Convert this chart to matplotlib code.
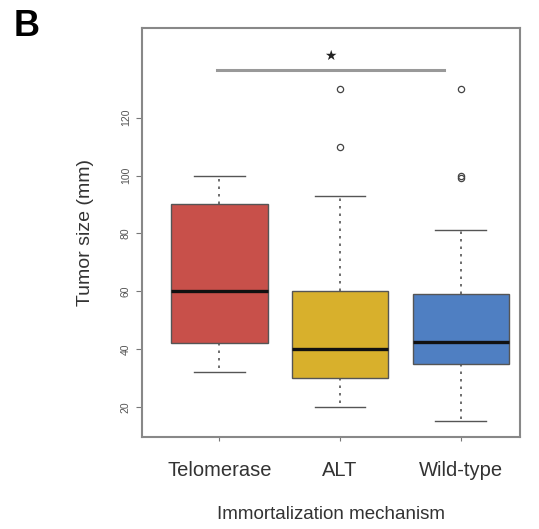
import matplotlib
matplotlib.use("Agg")
import matplotlib.pyplot as plt

plt.rcParams['font.family'] = ['Liberation Sans', 'DejaVu Sans']

groups = ["Telomerase", "ALT", "Wild-type"]
colors = ["#c8504a", "#d8b02c", "#4f7fc2"]
whislo = [32, 20, 15]
q1 = [42, 30, 35]
med = [60, 40, 42.5]
q3 = [90, 60, 59]
whishi = [100, 93, 81]
outliers = [[], [110, 130], [99, 100, 130]]
yticks = [20, 40, 60, 80, 100, 120]

stats = []
for i, g in enumerate(groups):
    stats.append(dict(label=g, whislo=whislo[i], q1=q1[i], med=med[i],
                      q3=q3[i], whishi=whishi[i], fliers=outliers[i]))

fig = plt.figure(figsize=(5.39, 5.29), dpi=100)
ax = fig.add_axes([142 / 539, 1 - 437 / 529, (520 - 142) / 539, (437 - 28) / 529])

bp = ax.bxp(stats, positions=[1, 2, 3], widths=0.8, patch_artist=True,
            boxprops=dict(linewidth=1.0, edgecolor="#555555"),
            medianprops=dict(color="#111111", linewidth=2.4),
            whiskerprops=dict(color="#555555", linestyle=(0, (1.5, 3)), linewidth=1.2),
            capprops=dict(color="#555555", linewidth=1.0),
            flierprops=dict(marker="o", markersize=4.5, markerfacecolor="none",
                            markeredgecolor="#444444", markeredgewidth=0.9))
for patch, c in zip(bp["boxes"], colors):
    patch.set_facecolor(c)
# shorter caps, like R's staplewex
for cap in bp["caps"]:
    x0, x1 = cap.get_xdata()
    xm = (x0 + x1) / 2
    cap.set_xdata([xm - 0.21, xm + 0.21])

ax.set_xlim(0.36, 3.49)
ax.set_ylim(9.6, 151)
ax.set_yticks(yticks)
ax.set_yticklabels([str(t) for t in yticks], rotation=90, va="center", fontsize=7.5, color="#555555")
ax.set_xticks([1, 2, 3])
ax.set_xticklabels(groups, fontsize=14.5, color="#333333")
ax.tick_params(axis="x", length=3, pad=14, color="#777777")
ax.tick_params(axis="y", length=4, pad=4, color="#777777")
for s in ax.spines.values():
    s.set_color("#888888")
    s.set_linewidth(1.5)

ax.set_ylabel("Tumor size (mm)", fontsize=14, color="#333333", labelpad=19)
ax.set_xlabel("Immortalization mechanism", fontsize=13.5, color="#333333", labelpad=19)

# significance bar
ax.plot([0.98, 2.86], [136.6, 136.6], color="#999999", linewidth=2.2)
ax.text(1.92, 141.5, "\u2605", ha="center", va="center", fontsize=10, color="#222222",
        family=["DejaVu Sans"])

fig.text(14 / 539, 1 - 27 / 529, "B", fontsize=26, fontweight="bold", va="center", ha="left")

fig.savefig("out.png", dpi=100)
